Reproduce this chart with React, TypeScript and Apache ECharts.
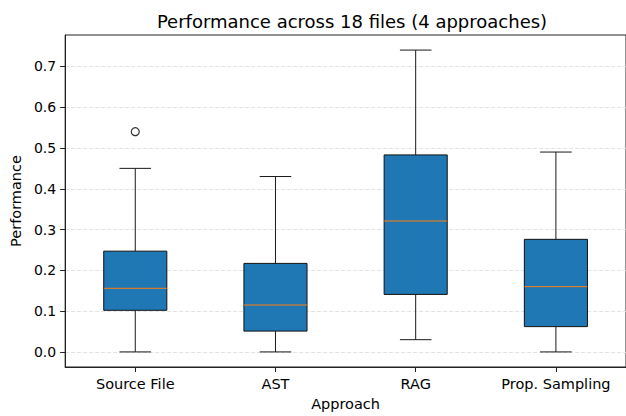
import React, { useEffect, useRef } from "react";
import * as echarts from "echarts";

const categories = ["Source File", "AST", "RAG", "Prop. Sampling"];
// [low whisker, Q1, median, Q3, high whisker]
const lowWhisker = [0.0, 0.0, 0.03, 0.0];
const q1 = [0.102, 0.051, 0.141, 0.062];
const median = [0.156, 0.115, 0.321, 0.16];
const q3 = [0.247, 0.217, 0.483, 0.276];
const highWhisker = [0.45, 0.43, 0.74, 0.49];
const outliers: [number, number][] = [[0, 0.54]];
const yTicks = [0, 0.1, 0.2, 0.3, 0.4, 0.5, 0.6, 0.7];

const FONT = "DejaVu Sans";

export default function App() {
  const ref = useRef<HTMLDivElement>(null);
  useEffect(() => {
    document.body.style.margin = "0";
    if (!ref.current) return;
    const chart = echarts.init(ref.current, null, { renderer: "svg" });
    const boxData = categories.map((_, i) => [
      i,
      lowWhisker[i],
      q1[i],
      median[i],
      q3[i],
      highWhisker[i],
    ]);
    const option: any = {
      animation: false,
      backgroundColor: "#ffffff",
      textStyle: { fontFamily: FONT },
      title: {
        text: "Performance across 18 files (4 approaches)",
        left: 347,
        textAlign: "center",
        top: 7,
        textStyle: { fontFamily: FONT, fontSize: 18, fontWeight: "normal", color: "#000" },
      },
      grid: {
        show: true,
        borderColor: "#222",
        borderWidth: 1,
        backgroundColor: "rgba(0,0,0,0)",
        left: 65,
        top: 35,
        right: -3,
        bottom: 49,
        containLabel: false,
      },
      xAxis: {
        type: "category",
        data: categories,
        boundaryGap: true,
        name: "Approach",
        nameLocation: "middle",
        nameGap: 29,
        nameTextStyle: { fontFamily: FONT, fontSize: 14.5, color: "#000" },
        axisLine: { show: true, onZero: false, lineStyle: { color: "#222", width: 1 } },
        axisTick: { show: true, alignWithLabel: true, interval: 0, length: 5, lineStyle: { color: "#222" } },
        axisLabel: { interval: 0, hideOverlap: false, margin: 9, fontFamily: FONT, fontSize: 14.5, color: "#000" },
        splitLine: { show: false },
      },
      yAxis: {
        type: "value",
        min: -0.037,
        max: 0.777,
        name: "Performance",
        nameLocation: "middle",
        nameGap: 40,
        nameTextStyle: { fontFamily: FONT, fontSize: 14.5, color: "#000" },
        axisLine: { show: true, lineStyle: { color: "#222", width: 1 } },
        axisTick: { show: true, length: 5, customValues: yTicks, lineStyle: { color: "#222" } },
        axisLabel: {
          margin: 9,
          fontFamily: FONT,
          fontSize: 14,
          color: "#000",
          customValues: yTicks,
          formatter: (v: number) => v.toFixed(1),
        },
        splitLine: { show: true, lineStyle: { color: "#e2e2e2", type: [4, 2], width: 1 } },
      },
      series: [
        {
          type: "custom",
          data: boxData,
          encode: { x: 0, y: [1, 2, 3, 4, 5] },
          renderItem: (params: any, api: any) => {
            const x = api.value(0);
            const pLow = api.coord([x, api.value(1)]);
            const pQ1 = api.coord([x, api.value(2)]);
            const pMed = api.coord([x, api.value(3)]);
            const pQ3 = api.coord([x, api.value(4)]);
            const pHigh = api.coord([x, api.value(5)]);
            const band = api.size([1, 0])[0];
            const hb = (band * 0.45) / 2;
            const hc = hb / 2;
            const cx = pMed[0];
            const lineStyle = { stroke: "#1a1a1a", lineWidth: 1 };
            return {
              type: "group",
              children: [
                { type: "line", shape: { x1: cx, y1: pQ1[1], x2: cx, y2: pLow[1] }, style: lineStyle },
                { type: "line", shape: { x1: cx, y1: pQ3[1], x2: cx, y2: pHigh[1] }, style: lineStyle },
                { type: "line", shape: { x1: cx - hc, y1: pLow[1], x2: cx + hc, y2: pLow[1] }, style: lineStyle },
                { type: "line", shape: { x1: cx - hc, y1: pHigh[1], x2: cx + hc, y2: pHigh[1] }, style: lineStyle },
                {
                  type: "rect",
                  shape: { x: cx - hb, y: pQ3[1], width: hb * 2, height: pQ1[1] - pQ3[1] },
                  style: { fill: "#1f77b4", stroke: "#111", lineWidth: 1 },
                },
                {
                  type: "line",
                  shape: { x1: cx - hb, y1: pMed[1], x2: cx + hb, y2: pMed[1] },
                  style: { stroke: "#ff7f0e", lineWidth: 1 },
                },
              ],
            };
          },
        },
        {
          type: "scatter",
          data: outliers,
          symbol: "circle",
          symbolSize: 8,
          itemStyle: { color: "rgba(0,0,0,0)", borderColor: "#000", borderWidth: 1.2 },
        },
      ],
    };
    chart.setOption(option);
    return () => chart.dispose();
  }, []);
  return <div ref={ref} style={{ width: 626, height: 416 }} />;
}
